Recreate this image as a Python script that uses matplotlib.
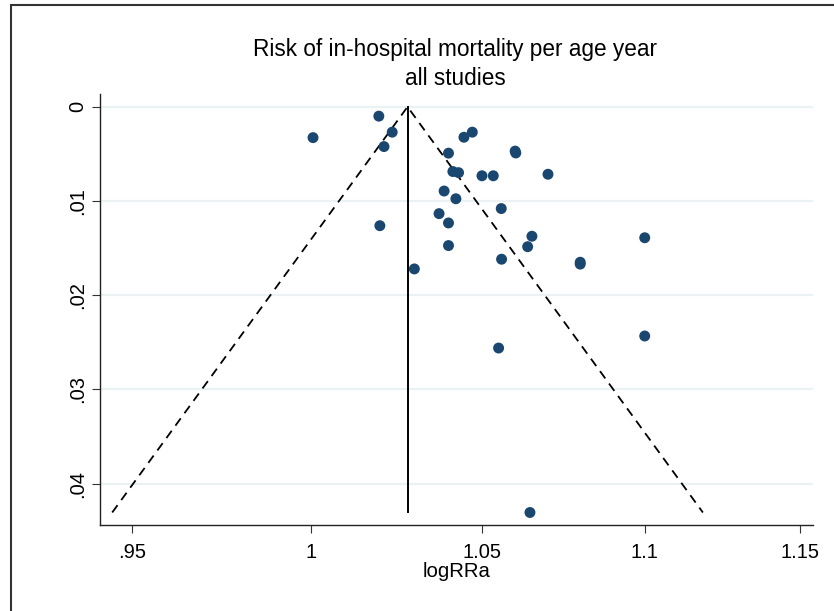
import numpy as np
import matplotlib
matplotlib.use("Agg")
import matplotlib.pyplot as plt
from matplotlib.patches import Rectangle

plt.rcParams['font.family'] = ['Liberation Sans', 'DejaVu Sans']

# study estimates (relative risk per age year) and their standard errors
rr = [1.0005, 1.0195, 1.0234, 1.0210, 1.0446, 1.0471, 1.0400, 1.0600, 1.0602,
      1.0413, 1.0430, 1.0500, 1.0534, 1.0700, 1.0387, 1.0422, 1.0558, 1.0372,
      1.0400, 1.0198, 1.0651, 1.1000, 1.0400, 1.0638, 1.0559, 1.0799, 1.0799,
      1.0299, 1.1000, 1.0550, 1.0645]
se = [0.00327, 0.00099, 0.00269, 0.00422, 0.00323, 0.00269, 0.00492, 0.00470, 0.00490,
      0.00687, 0.00699, 0.00732, 0.00732, 0.00716, 0.00894, 0.00976, 0.01080, 0.01134,
      0.01233, 0.01262, 0.01374, 0.01390, 0.01473, 0.01485, 0.01618, 0.01650, 0.01670,
      0.01721, 0.02433, 0.02561, 0.04307]
pooled_rr = 1.0279

xticks = [0.95, 1.0, 1.05, 1.1, 1.15]
xticklabels = ['.95', '1', '1.05', '1.1', '1.15']
yticks = [0, 0.01, 0.02, 0.03, 0.04]
yticklabels = ['0', '.01', '.02', '.03', '.04']

fig = plt.figure(figsize=(8.34, 6.11), dpi=100)
ax = fig.add_axes([100 / 834, 1 - 525.3 / 611, 713 / 834, 431 / 611])

# pseudo 95% confidence limits around the pooled estimate
se_max = max(se)
theta = np.log(pooled_rr)
ax.plot([np.exp(theta - 1.96 * se_max), pooled_rr, np.exp(theta + 1.96 * se_max)],
        [se_max, 0, se_max], color='black', lw=1.3, ls=(0, (5, 3.5)), zorder=2)
ax.plot([pooled_rr, pooled_rr], [0, se_max], color='black', lw=1.4, zorder=2)

ax.scatter(rr, se, s=62, color='#1a476f', edgecolors='none', zorder=3)

ax.set_xscale('log')
ax.set_xlim(0.9414, 1.1542)
ax.set_ylim(0.04443, -0.00133)
ax.set_xticks(xticks)
ax.set_xticklabels(xticklabels)
ax.minorticks_off()
ax.set_yticks(yticks)
ax.set_yticklabels(yticklabels, rotation=90, va='center')
ax.tick_params(axis='both', labelsize=14.5, length=6, width=0.8, color='#333333')
ax.tick_params(axis='x', pad=7)
ax.tick_params(axis='y', pad=3)

for y in yticks:
    ax.axhline(y, color='#eaf2f3', lw=1.6, zorder=1)

for side in ['top', 'right']:
    ax.spines[side].set_visible(False)
for side in ['left', 'bottom']:
    ax.spines[side].set_color('#222222')
    ax.spines[side].set_linewidth(1.0)

ax.set_xlabel('logRRa', fontsize=14.7, labelpad=0)
fig.text(455 / 834, 1 - 85 / 611, 'Risk of in-hospital mortality per age year\nall studies',
         ha='center', va='baseline', fontsize=16.3, linespacing=1.35)

# outer frame of the graph region
fig.patches.append(Rectangle((11 / 834, -0.1), 1.2, 1.1 - 5 / 611, transform=fig.transFigure,
                             fill=False, edgecolor='#333333', lw=1.5))

fig.savefig('out.png', dpi=100)
